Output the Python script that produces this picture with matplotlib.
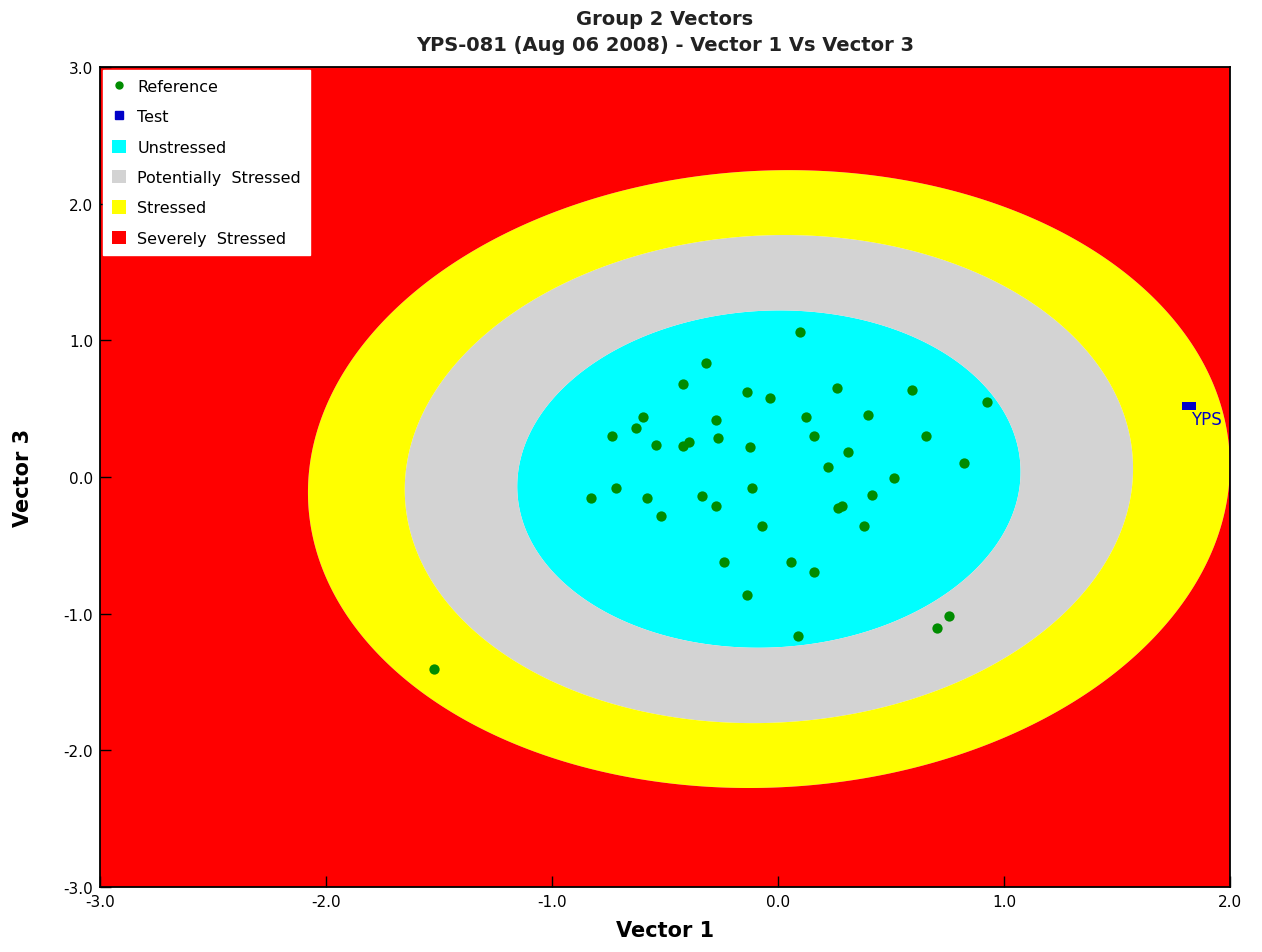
import numpy as np
import matplotlib
matplotlib.use("Agg")
import matplotlib.pyplot as plt
from matplotlib.lines import Line2D
from matplotlib.patches import Patch

# reference samples (Vector 1, Vector 3)
ref_v1 = [0.096, -0.320, -0.419, -0.136, -0.037, 0.262, 0.594, 0.926, -0.596,
          -0.630, -0.736, -0.541, -0.419, -0.394, -0.273, -0.264, -0.125, 0.125,
          0.159, 0.398, 0.308, 0.654, 0.220, 0.823, 0.513, -0.715, -0.826,
          -0.581, -0.338, -0.116, -0.273, -0.519, 0.415, 0.267, 0.282, -0.069,
          0.381, -0.239, 0.059, 0.159, -0.136, 0.757, 0.705, 0.087, -1.522]
ref_v3 = [1.058, 0.832, 0.678, 0.620, 0.578, 0.649, 0.634, 0.551, 0.437,
          0.358, 0.300, 0.236, 0.225, 0.254, 0.419, 0.283, 0.222, 0.437,
          0.300, 0.451, 0.183, 0.298, 0.071, 0.100, -0.007, -0.080, -0.154,
          -0.154, -0.137, -0.080, -0.210, -0.283, -0.129, -0.229, -0.210, -0.356,
          -0.356, -0.620, -0.620, -0.693, -0.861, -1.014, -1.102, -1.161, -1.405]

# test site
test_v1 = [1.82]
test_v3 = [0.52]
test_label = "YPS"

# stress zones: ellipse centre, spread and zone boundaries (scaled distance)
zone_center = (-0.04, -0.015)
zone_cov = [[4.16, 0.2], [0.2, 5.11]]
zone_levels = [0.546, 0.79, 1.0]
zone_names = ["Unstressed", "Potentially  Stressed", "Stressed", "Severely  Stressed"]
zone_colors = ["#00ffff", "#d3d3d3", "#ffff00", "#ff0000"]

# flat rectangle used for the test marker
rect_marker = [(-1, -0.6), (1, -0.6), (1, 0.6), (-1, 0.6), (-1, -0.6)]


def zone_distance(gx, gy):
    inv = np.linalg.inv(np.array(zone_cov))
    dx = gx - zone_center[0]
    dy = gy - zone_center[1]
    d2 = inv[0, 0] * dx * dx + 2 * inv[0, 1] * dx * dy + inv[1, 1] * dy * dy
    return np.sqrt(d2)


def main():
    fig = plt.figure(figsize=(12.62, 9.53), dpi=100)
    ax = fig.add_axes([0.0792, 0.0682, 0.8954, 0.8604])

    gx, gy = np.meshgrid(np.linspace(-3, 2, 800), np.linspace(-3, 3, 900))
    dist = zone_distance(gx, gy)
    ax.contourf(gx, gy, dist, levels=[0] + zone_levels + [1000],
                colors=zone_colors, antialiased=True)

    ax.scatter(ref_v1, ref_v3, s=55, color="#008c00", zorder=3, linewidths=0)
    ax.scatter(test_v1, test_v3, s=90, marker=rect_marker, color="#0000c8",
               zorder=4, linewidths=0)
    for x, y in zip(test_v1, test_v3):
        ax.text(x + 0.01, y - 0.03, test_label, color="#0000c8", fontsize=12,
                ha="left", va="top", clip_on=True, zorder=4)

    ax.set_xlim(-3, 2)
    ax.set_ylim(-3, 3)
    ax.set_xticks(np.arange(-3, 2.01, 1.0))
    ax.set_yticks(np.arange(-3, 3.01, 1.0))
    ax.xaxis.set_major_formatter(matplotlib.ticker.FormatStrFormatter("%.1f"))
    ax.yaxis.set_major_formatter(matplotlib.ticker.FormatStrFormatter("%.1f"))
    ax.tick_params(direction="in", length=8, width=1, labelsize=11, pad=5)
    for sp in ax.spines.values():
        sp.set_linewidth(1.3)

    ax.set_xlabel("Vector 1", fontsize=15, fontweight="bold", labelpad=8)
    ax.set_ylabel("Vector 3", fontsize=15, fontweight="bold", labelpad=22)
    ax.set_title("Group 2 Vectors\nYPS-081 (Aug 06 2008) - Vector 1 Vs Vector 3",
                 fontsize=14, fontweight="bold", color="#222222", pad=12,
                 linespacing=1.5)

    handles = [
        Line2D([], [], marker="o", linestyle="none", color="#008c00", markersize=5),
        Line2D([], [], marker="s", linestyle="none", color="#0000c8", markersize=6),
    ]
    handles += [Patch(facecolor=c, edgecolor="none") for c in zone_colors]
    labels = ["Reference", "Test"] + zone_names
    leg = ax.legend(handles, labels, loc="upper left", fontsize=11.5,
                    frameon=True, fancybox=False, borderaxespad=0.2,
                    handlelength=0.9, handleheight=0.9, handletextpad=0.7,
                    labelspacing=0.95, borderpad=0.55)
    leg.get_frame().set_edgecolor("white")
    leg.get_frame().set_facecolor("white")
    leg.get_frame().set_alpha(1)

    fig.savefig("out.png", dpi=100)


if __name__ == "__main__":
    main()
